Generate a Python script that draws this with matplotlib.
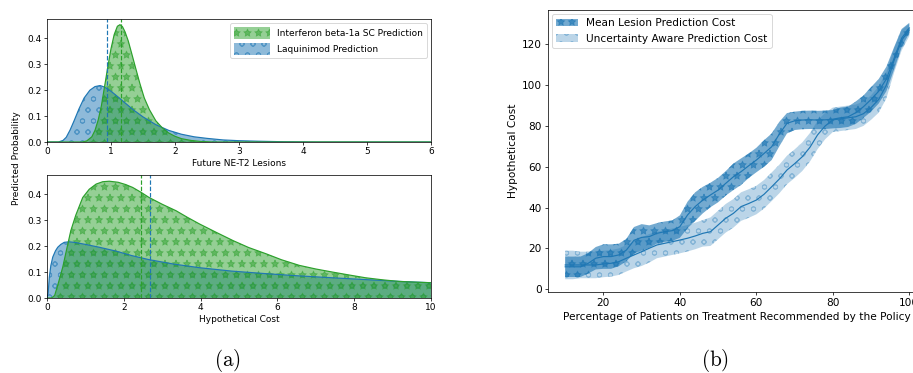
"""
Recreation: predicted lesion / cost densities (a) and policy cost curves (b)
"""

import numpy as np
import matplotlib
matplotlib.use("Agg")
import matplotlib.pyplot as plt

DPI = 66
W, H = 913, 373

plt.rcParams["mathtext.fontset"] = "cm"
plt.rcParams["hatch.linewidth"] = 1.0

# ---- (a) top: future NE-T2 lesions ----
ifn_lesion_x = [0, 0.55, 0.62, 0.7, 0.75, 0.8, 0.85, 0.9, 0.95, 1.0, 1.05, 1.1, 1.14,
                1.18, 1.22, 1.27, 1.32, 1.38, 1.45, 1.52, 1.6, 1.7, 1.8, 1.9, 2.0,
                2.1, 2.25, 2.4, 2.6, 6.0]
ifn_lesion_y = [0, 0, 0.004, 0.02, 0.045, 0.085, 0.14, 0.215, 0.29, 0.36, 0.415, 0.447,
                0.453, 0.445, 0.425, 0.39, 0.345, 0.29, 0.227, 0.17, 0.125, 0.082,
                0.055, 0.035, 0.022, 0.013, 0.006, 0.002, 0, 0]
laq_lesion_x = [0, 0.18, 0.25, 0.3, 0.36, 0.42, 0.5, 0.58, 0.67, 0.75, 0.83, 0.9, 1.0,
                1.1, 1.2, 1.35, 1.5, 1.7, 1.9, 2.1, 2.3, 2.5, 2.75, 3.0, 3.3, 3.7,
                4.2, 6.0]
laq_lesion_y = [0, 0, 0.006, 0.018, 0.046, 0.08, 0.128, 0.17, 0.2, 0.214, 0.218, 0.212,
                0.196, 0.176, 0.155, 0.124, 0.097, 0.067, 0.045, 0.03, 0.02, 0.014,
                0.008, 0.005, 0.003, 0.001, 0, 0]
lesion_mean = {"ifn": 1.16, "laq": 0.93}

# ---- (a) bottom: hypothetical cost ----
ifn_cost_x = [0, 0.12, 0.2, 0.3, 0.41, 0.5, 0.62, 0.75, 0.93, 1.1, 1.28, 1.45, 1.62,
              1.85, 2.05, 2.23, 2.45, 2.66, 3.0, 3.36, 3.65, 3.97, 4.4, 4.84, 5.25,
              5.7, 6.1, 6.57, 7.0, 7.44, 7.9, 8.3, 8.75, 9.17, 9.6, 10.0]
ifn_cost_y = [0, 0, 0.01, 0.06, 0.119, 0.18, 0.26, 0.32, 0.388, 0.42, 0.44, 0.449,
              0.451, 0.447, 0.438, 0.427, 0.408, 0.388, 0.362, 0.337, 0.312, 0.286,
              0.254, 0.222, 0.195, 0.171, 0.148, 0.126, 0.112, 0.1, 0.088, 0.078,
              0.07, 0.064, 0.061, 0.059]
laq_cost_x = [0, 0.03, 0.06, 0.1, 0.15, 0.22, 0.28, 0.36, 0.45, 0.58, 0.75, 1.0, 1.36,
              1.8, 2.2, 2.66, 3.3, 3.97, 4.8, 5.7, 6.5, 7.44, 8.3, 9.2, 10.0]
laq_cost_y = [0, 0.02, 0.08, 0.125, 0.158, 0.182, 0.196, 0.207, 0.215, 0.217, 0.214,
              0.207, 0.196, 0.181, 0.164, 0.148, 0.131, 0.117, 0.104, 0.094, 0.086,
              0.078, 0.071, 0.064, 0.059]
cost_mean = {"ifn": 2.45, "laq": 2.67}

# ---- (b) policy cost curves ----
pct_treated = list(range(10, 101, 2))
mean_cost = [11, 11, 11, 12.7, 15.2, 16, 16, 16.8, 19.2, 24, 25.4, 25.8, 27.4, 28.2,
             28.7, 30.7, 36.4, 40.5, 43.7, 46.2, 48.6, 51.9, 55.1, 57.6, 60.5, 63.3,
             66.5, 69.8, 76, 81.3, 82.5, 82.9, 83, 82.9, 83, 83.3, 84, 84.5, 86.5,
             89.4, 93, 97, 103, 113, 123, 128]
mean_cost_hw = [5, 5, 5, 5, 5.5, 6, 6, 5.5, 5.5, 6.5, 6.5, 5.5, 5, 5, 5, 5.5, 6.5, 7,
                6.5, 6, 6, 6, 6.5, 6.5, 6, 6, 6.5, 6.5, 6, 5, 4.5, 4.5, 4.5, 4.5, 4.5,
                4.5, 5, 5, 5.5, 5.5, 6, 6, 6, 5.5, 4.5, 2.5]
unc_cost = [11.9, 11.9, 11.9, 11.9, 11.9, 12.4, 12.7, 13.5, 15.2, 16.8, 18.4, 20.1,
            21.7, 22.5, 23.3, 24.1, 25, 26.1, 27.4, 28.2, 31.5, 34.8, 37.2, 40.5, 42,
            43.7, 46.5, 50.2, 54, 58.4, 61.5, 64.9, 69.5, 75.6, 80, 83, 83.5, 84,
            84.5, 86, 89, 93, 100, 112, 122, 127]
unc_cost_hw = [7, 7, 6.5, 6.5, 6.5, 6.5, 6.5, 6.5, 6.5, 6.5, 7, 7, 6.5, 6.5, 6.5, 6.5,
               6.5, 6.5, 6.5, 7, 7, 7, 7, 7, 7, 7, 7, 7, 7, 7, 7, 7, 7, 7, 6.5, 6, 6,
               6, 6, 6, 6, 6.5, 6.5, 6, 5, 3]

BLUE, GREEN = "C0", "C2"
FS_A = 9.8    # left panels
FS_B = 11.5   # right panel


def px_box(left, top, right, bottom):
    return [left / W, 1 - bottom / H, (right - left) / W, (bottom - top) / H]


def density_panel(ax, ifn_x, ifn_y, laq_x, laq_y, means, xlim, xlabel):
    laq = ax.fill_between(laq_x, laq_y, color=BLUE, alpha=0.5, hatch="o", lw=0)
    ax.plot(laq_x, laq_y, color=BLUE, lw=1.3)
    ifn = ax.fill_between(ifn_x, ifn_y, color=GREEN, alpha=0.5, hatch="*", lw=0)
    ax.plot(ifn_x, ifn_y, color=GREEN, lw=1.3)
    ax.axvline(means["laq"], color=BLUE, ls="--", lw=1.3)
    ax.axvline(means["ifn"], color=GREEN, ls="--", lw=1.3)
    ax.set_xlim(*xlim)
    ax.set_ylim(0, 0.475)
    ax.set_yticks([0, 0.1, 0.2, 0.3, 0.4])
    ax.set_xlabel(xlabel, fontsize=FS_A, labelpad=3)
    ax.tick_params(labelsize=FS_A, pad=2)
    return ifn, laq


fig = plt.figure(figsize=(W / DPI, H / DPI), dpi=DPI)

ax1 = fig.add_axes(px_box(47, 19, 431, 142))
ifn_h, laq_h = density_panel(ax1, ifn_lesion_x, ifn_lesion_y, laq_lesion_x,
                             laq_lesion_y, lesion_mean, (0, 6), "Future NE-T2 Lesions")
ax1.legend([ifn_h, laq_h], ["Interferon beta-1a SC Prediction", "Laquinimod Prediction"],
           loc="upper right", fontsize=FS_A, handlelength=4.0, handleheight=1.6,
           labelspacing=0.5)

ax2 = fig.add_axes(px_box(47, 175, 431, 298))
density_panel(ax2, ifn_cost_x, ifn_cost_y, laq_cost_x, laq_cost_y, cost_mean,
              (0, 10), "Hypothetical Cost")
ax2.set_xticks([0, 2, 4, 6, 8, 10])

fig.text(17 / W, 1 - 158 / H, "Predicted Probability", rotation=90,
         ha="center", va="center", fontsize=FS_A)

# ---- (b) ----
ax3 = fig.add_axes(px_box(548, 10, 926.5, 291.7))
x = np.array(pct_treated)
mc, mhw = np.array(mean_cost), np.array(mean_cost_hw)
uc, uhw = np.array(unc_cost), np.array(unc_cost_hw)
unc_h = ax3.fill_between(x, uc - uhw, uc + uhw, color=BLUE, alpha=0.3, hatch="o", lw=0)
mean_h = ax3.fill_between(x, mc - mhw, mc + mhw, color=BLUE, alpha=0.62, hatch="*", lw=0)
ax3.plot(x, uc, color=BLUE, lw=1.3)
ax3.plot(x, mc, color=BLUE, lw=1.3)
ax3.set_xlim(5.5, 104.5)
ax3.set_ylim(-1.2, 136.8)
ax3.set_xticks([20, 40, 60, 80, 100])
ax3.set_yticks([0, 20, 40, 60, 80, 100, 120])
ax3.tick_params(labelsize=FS_B)
ax3.set_xlabel("Percentage of Patients on Treatment Recommended by the Policy", fontsize=FS_B)
ax3.set_ylabel("Hypothetical Cost", fontsize=FS_B)
ax3.legend([mean_h, unc_h], ["Mean Lesion Prediction Cost", "Uncertainty Aware Prediction Cost"],
           loc="upper left", fontsize=FS_B, handlelength=2.0, borderaxespad=0.4)

fig.text(227 / W, 1 - 360 / H, r"$\mathrm{(a)}$", ha="center", va="center", fontsize=23)
fig.text(715 / W, 1 - 360 / H, r"$\mathrm{(b)}$", ha="center", va="center", fontsize=23)

fig.savefig("out.png", dpi=DPI)
plt.close(fig)
